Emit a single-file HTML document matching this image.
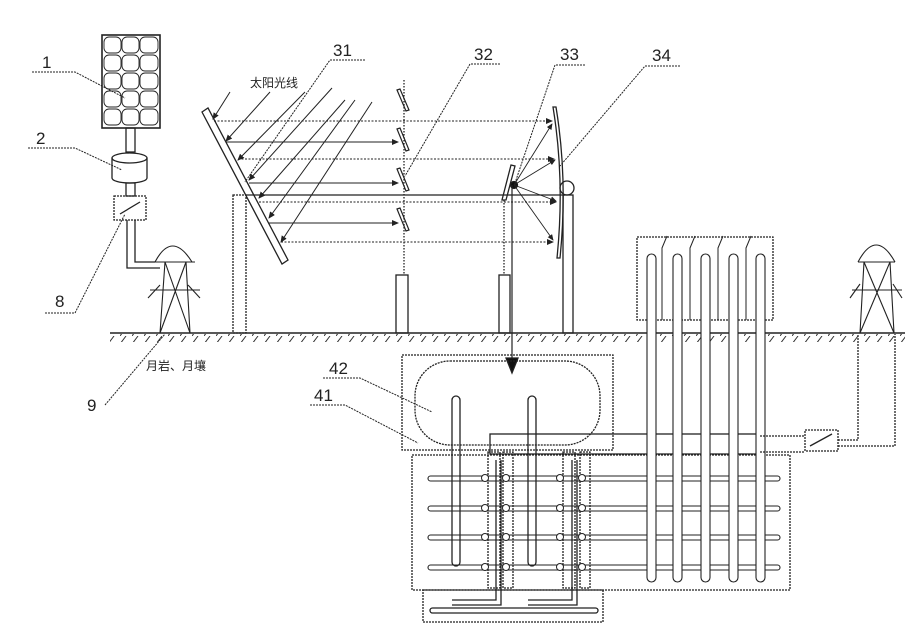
<!DOCTYPE html>
<html><head><meta charset="utf-8"><style>body{margin:0;background:#fff}svg{display:block}</style></head><body>
<svg width="922" height="644" viewBox="0 0 922 644" xmlns="http://www.w3.org/2000/svg" font-family="Liberation Sans, Noto Sans CJK SC, sans-serif">
<defs>
<pattern id="h" width="12" height="8" patternUnits="userSpaceOnUse"><line x1="0" y1="8" x2="6" y2="0" stroke="#333" stroke-width="1"/></pattern>
<marker id="a" markerWidth="7" markerHeight="6" refX="6" refY="3" orient="auto"><path d="M0,0L7,3L0,6z" fill="#222"/></marker>
</defs>
<g stroke="#222" fill="none" stroke-width="1.3">
<!-- ground -->
<line x1="110" y1="333" x2="905" y2="333" stroke-width="1.6"/>
<rect x="110" y="334" width="795" height="8" fill="url(#h)" stroke="none"/>
<!-- solar panel -->
<rect x="102" y="35" width="58" height="93" stroke-width="1.6"/>
<g stroke-width="0.9">
<rect x="104" y="37" width="17" height="16" rx="5"/><rect x="122" y="37" width="17" height="16" rx="5"/><rect x="140" y="37" width="18" height="16" rx="5"/>
<rect x="104" y="55" width="17" height="16" rx="5"/><rect x="122" y="55" width="17" height="16" rx="5"/><rect x="140" y="55" width="18" height="16" rx="5"/>
<rect x="104" y="73" width="17" height="16" rx="5"/><rect x="122" y="73" width="17" height="16" rx="5"/><rect x="140" y="73" width="18" height="16" rx="5"/>
<rect x="104" y="91" width="17" height="16" rx="5"/><rect x="122" y="91" width="17" height="16" rx="5"/><rect x="140" y="91" width="18" height="16" rx="5"/>
<rect x="104" y="109" width="17" height="16" rx="5"/><rect x="122" y="109" width="17" height="16" rx="5"/><rect x="140" y="109" width="18" height="16" rx="5"/>
</g>
<rect x="126" y="128" width="9" height="24"/>
<path d="M112,158 A17.5,5 0 0 1 147,158 L147,178 A17.5,5 0 0 1 112,178 Z"/>
<path d="M112,158 A17.5,5 0 0 0 147,158"/>
<rect x="126" y="183" width="9" height="13"/>
<rect x="114" y="196" width="32" height="24" stroke-dasharray="2,1"/>
<line x1="120" y1="214" x2="140" y2="202"/>
<path d="M127,220 V268 H160 M135,220 V262 H155"/>
<!-- left tower -->
<g stroke-width="1.1">
<path d="M152,262 H195 M160,333 L165,262 M186,262 L190,333 M165,262 L190,333 M186,262 L160,333 M155,262 Q172,230 192,262 M150,290 H200 M148,298 L160,285 M200,298 L188,285"/>
</g>
<!-- labels left -->
<g stroke-width="1" stroke-dasharray="2,1">
<path d="M32,72 H75 L125,98"/><path d="M28,148 H75 L122,170"/><path d="M45,313 H75 L125,214"/><path d="M105,405 L165,334"/>
</g>
<!-- frame -->
<rect x="233" y="195" width="13" height="138" stroke-dasharray="2,1"/>
<line x1="246" y1="195" x2="565" y2="195"/>
<rect x="396" y="275" width="12" height="58"/>
<rect x="499" y="275" width="11" height="58"/>
<rect x="563" y="195" width="10" height="138"/>
<line x1="404" y1="80" x2="404" y2="275" stroke-dasharray="1.5,1.5"/>
<line x1="504" y1="200" x2="504" y2="275" stroke-dasharray="1.5,1.5"/>
<!-- mirror 31 -->
<path d="M202,112 L208,108 L288,260 L282,264 Z" stroke-width="1.3"/>
<!-- incident rays -->
<g stroke-width="1" marker-end="url(#a)">
<line x1="230" y1="92" x2="213" y2="119"/>
<line x1="270" y1="92" x2="226" y2="141"/>
<line x1="305" y1="92" x2="238" y2="160"/>
<line x1="332" y1="88" x2="249" y2="180"/>
<line x1="345" y1="100" x2="259" y2="198"/>
<line x1="355" y1="100" x2="269" y2="218"/>
<line x1="372" y1="102" x2="281" y2="242"/>
</g>
<!-- horizontal rays -->
<g stroke-width="1" marker-end="url(#a)">
<line x1="214" y1="121" x2="552" y2="121" stroke-dasharray="2,1.5"/>
<line x1="226" y1="142" x2="398" y2="142"/>
<line x1="238" y1="159" x2="554" y2="159" stroke-dasharray="2,1.5"/>
<line x1="249" y1="183" x2="398" y2="183"/>
<line x1="259" y1="202" x2="556" y2="202" stroke-dasharray="2,1.5"/>
<line x1="269" y1="223" x2="398" y2="223"/>
<line x1="281" y1="242" x2="553" y2="242" stroke-dasharray="2,1.5"/>
</g>
<!-- small mirrors 32 -->
<g stroke-width="1.2">
<path d="M397,90 L400,89 L409,110 L406,111 Z"/><path d="M397,129 L400,128 L409,150 L406,151 Z"/>
<path d="M397,169 L400,168 L409,190 L406,191 Z"/><path d="M397,209 L400,208 L409,230 L406,231 Z"/>
</g>
<!-- mirror 34 -->
<path d="M553,107 Q565,180 557,258 L560,258 Q568,180 556,107 Z"/>
<circle cx="567" cy="188" r="7"/>
<!-- mirror 33 -->
<path d="M511,165 L515,166 L506,200 L502,200 Z"/>
<circle cx="514" cy="185" r="3.5" fill="#111"/>
<g stroke-width="0.9" marker-end="url(#a)">
<line x1="514" y1="185" x2="552" y2="124"/><line x1="514" y1="185" x2="555" y2="160"/>
<line x1="514" y1="185" x2="556" y2="201"/><line x1="514" y1="185" x2="553" y2="240"/>
</g>
<line x1="512" y1="185" x2="512" y2="370" stroke-width="1.2"/>
<path d="M506,358 L518,358 L512,373 Z" fill="#111"/>
<!-- labels top -->
<g stroke-width="1" stroke-dasharray="2,1">
<path d="M365,60 H330 L245,182"/><path d="M500,64 H470 L405,176"/><path d="M585,65 H555 L515,183"/><path d="M680,66 H645 L560,166"/>
<path d="M323,378 H360 L432,412"/><path d="M310,405 H345 L418,443"/>
</g>
<!-- tank -->
<rect x="402" y="355" width="211" height="95" stroke-dasharray="2,1"/>
<rect x="415" y="361" width="185" height="84" rx="35" stroke-dasharray="2,1"/>
<rect x="452" y="396" width="8" height="170" rx="4"/>
<rect x="528" y="396" width="8" height="170" rx="4"/>
<!-- underground -->
<rect x="412" y="455" width="378" height="135" stroke-dasharray="2,1"/>
<rect x="423" y="590" width="180" height="32" stroke-dasharray="2,1"/>
<rect x="430" y="608" width="168" height="5" rx="2.5"/>
<path d="M452,600 H496 V460 M452,605 H501 V460 M528,600 H572 V460 M528,605 H577 V460"/>
<rect x="488" y="452" width="12" height="136" stroke-dasharray="2,1"/>
<rect x="503" y="452" width="10" height="136" stroke-dasharray="2,1"/>
<rect x="563" y="452" width="12" height="136" stroke-dasharray="2,1"/>
<rect x="580" y="452" width="10" height="136" stroke-dasharray="2,1"/>
<rect x="490" y="434" width="270" height="20"/>
<g stroke-width="1.1">
<rect x="428" y="476" width="352" height="5" rx="2.5"/><rect x="428" y="506" width="352" height="5" rx="2.5"/>
<rect x="428" y="535" width="352" height="5" rx="2.5"/><rect x="428" y="565" width="352" height="5" rx="2.5"/>
</g>
<g fill="#fff" stroke-width="1">
<circle cx="485" cy="478" r="3.5"/><circle cx="506" cy="478" r="3.5"/><circle cx="560" cy="478" r="3.5"/><circle cx="582" cy="478" r="3.5"/>
<circle cx="485" cy="508" r="3.5"/><circle cx="506" cy="508" r="3.5"/><circle cx="560" cy="508" r="3.5"/><circle cx="582" cy="508" r="3.5"/>
<circle cx="485" cy="537" r="3.5"/><circle cx="506" cy="537" r="3.5"/><circle cx="560" cy="537" r="3.5"/><circle cx="582" cy="537" r="3.5"/>
<circle cx="485" cy="567" r="3.5"/><circle cx="506" cy="567" r="3.5"/><circle cx="560" cy="567" r="3.5"/><circle cx="582" cy="567" r="3.5"/>
</g>
<!-- collector -->
<rect x="637" y="237" width="136" height="83" stroke-dasharray="2,1"/>
<g stroke-width="1.1" fill="#fff">
<rect x="647" y="254" width="9" height="328" rx="4.5"/><rect x="673" y="254" width="9" height="328" rx="4.5"/>
<rect x="701" y="254" width="9" height="328" rx="4.5"/><rect x="729" y="254" width="9" height="328" rx="4.5"/>
<rect x="756" y="254" width="9" height="328" rx="4.5"/>
</g>
<path d="M662,320 V248 L667,236 M690,320 V248 L695,236 M718,320 V248 L723,236 M746,320 V248 L751,236" stroke-width="1"/>
<!-- right tower & line -->
<g stroke-width="1.1">
<path d="M858,262 H895 M860,333 L864,262 M890,262 L894,333 M864,262 L894,333 M890,262 L860,333 M858,262 Q876,228 895,262 M852,290 H902 M850,298 L860,284 M902,298 L893,284"/>
</g>
<path d="M760,436 H805 M838,440 H858 V334 M760,452 H805 M838,446 H895 V334" stroke-dasharray="2,1"/>
<rect x="805" y="430" width="33" height="21" stroke-dasharray="2,1"/>
<line x1="810" y1="446" x2="832" y2="434"/>
</g>
<g fill="#222" font-size="17">
<text x="42" y="68">1</text><text x="36" y="144">2</text><text x="55" y="307">8</text><text x="87" y="411">9</text>
<text x="333" y="56">31</text><text x="474" y="60">32</text><text x="560" y="60">33</text><text x="652" y="61">34</text>
<text x="329" y="374">42</text><text x="314" y="401">41</text>
</g>
<g fill="#222" font-size="12">
<text x="250" y="87">太阳光线</text><text x="146" y="370">月岩、月壤</text>
</g>
</svg>
</body></html>
